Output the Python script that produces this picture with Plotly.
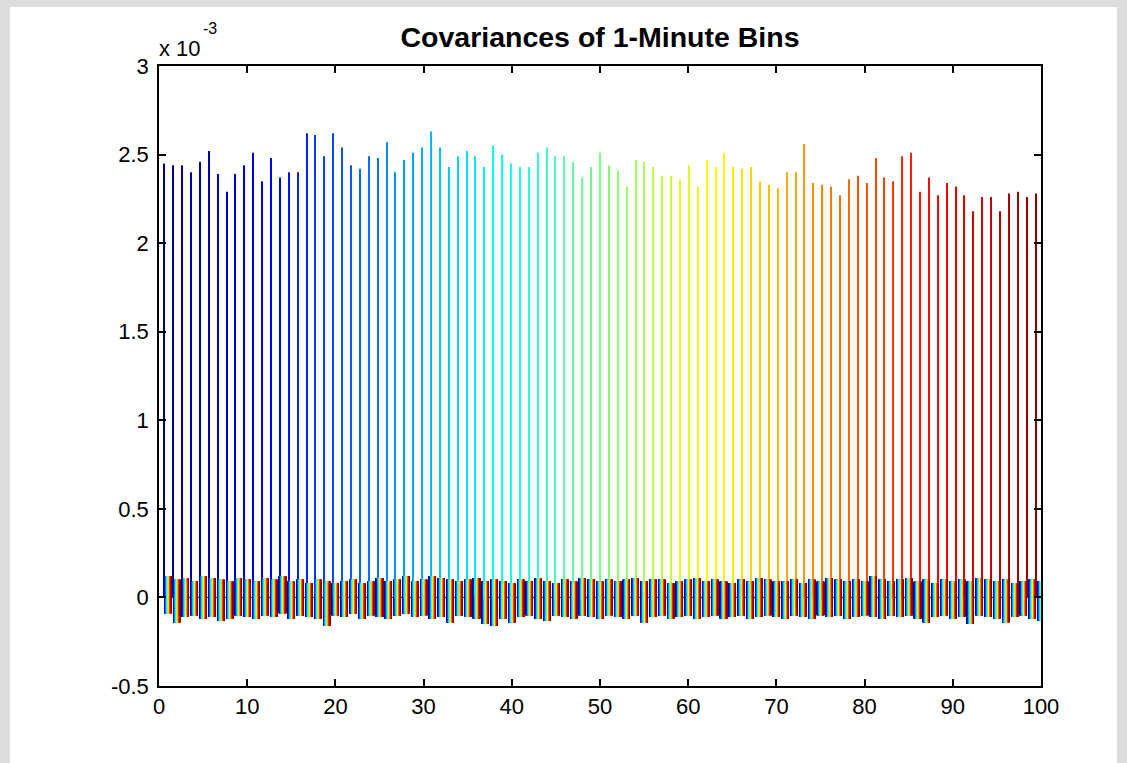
import plotly.graph_objects as go

# ---------------- data (values in units of 1e-3) ----------------
bins = list(range(1, 101))

# diagonal (variance) bars
variance_e3 = [
    2.45, 2.44, 2.44, 2.40, 2.46, 2.52, 2.39, 2.29, 2.39, 2.44,
    2.51, 2.35, 2.48, 2.37, 2.40, 2.40, 2.62, 2.61, 2.49, 2.62,
    2.54, 2.44, 2.42, 2.49, 2.48, 2.57, 2.40, 2.47, 2.51, 2.54,
    2.63, 2.54, 2.43, 2.49, 2.52, 2.49, 2.43, 2.55, 2.50, 2.45,
    2.43, 2.43, 2.51, 2.54, 2.49, 2.49, 2.46, 2.37, 2.43, 2.51,
    2.44, 2.41, 2.32, 2.47, 2.46, 2.43, 2.38, 2.38, 2.36, 2.44,
    2.32, 2.47, 2.43, 2.51, 2.43, 2.42, 2.43, 2.35, 2.33, 2.31,
    2.40, 2.40, 2.56, 2.34, 2.33, 2.32, 2.27, 2.36, 2.38, 2.34,
    2.48, 2.37, 2.35, 2.49, 2.51, 2.29, 2.37, 2.27, 2.34, 2.32,
    2.27, 2.18, 2.26, 2.26, 2.18, 2.28, 2.29, 2.26, 2.28, 2.29,
]

# off-diagonal covariances: estimated upper / lower extent per bin group
offdiag_high_e3 = [
    0.12, 0.10, 0.11, 0.09, 0.12, 0.11, 0.10, 0.09, 0.11, 0.10,
    0.09, 0.11, 0.10, 0.12, 0.09, 0.10, 0.08, 0.10, 0.09, 0.08,
    0.09, 0.10, 0.08, 0.09, 0.11, 0.09, 0.10, 0.12, 0.09, 0.10,
    0.12, 0.11, 0.10, 0.09, 0.10, 0.11, 0.09, 0.10, 0.09, 0.08,
    0.10, 0.09, 0.11, 0.09, 0.08, 0.10, 0.09, 0.11, 0.10, 0.09,
    0.10, 0.09, 0.10, 0.11, 0.09, 0.10, 0.10, 0.08, 0.09, 0.10,
    0.11, 0.09, 0.10, 0.09, 0.08, 0.10, 0.09, 0.11, 0.10, 0.09,
    0.09, 0.10, 0.08, 0.10, 0.09, 0.11, 0.10, 0.09, 0.10, 0.09,
    0.12, 0.10, 0.09, 0.10, 0.11, 0.09, 0.10, 0.08, 0.10, 0.09,
    0.10, 0.09, 0.11, 0.10, 0.09, 0.10, 0.08, 0.09, 0.10, 0.09,
]
offdiag_low_e3 = [
    -0.09, -0.14, -0.11, -0.10, -0.12, -0.11, -0.13, -0.12, -0.10, -0.11,
    -0.12, -0.10, -0.11, -0.09, -0.12, -0.10, -0.11, -0.12, -0.16, -0.10,
    -0.11, -0.09, -0.12, -0.10, -0.11, -0.12, -0.10, -0.09, -0.11, -0.10,
    -0.12, -0.11, -0.14, -0.10, -0.11, -0.12, -0.15, -0.16, -0.12, -0.14,
    -0.11, -0.10, -0.12, -0.13, -0.10, -0.11, -0.12, -0.10, -0.11, -0.12,
    -0.10, -0.11, -0.12, -0.10, -0.14, -0.11, -0.10, -0.12, -0.11, -0.10,
    -0.12, -0.11, -0.10, -0.12, -0.11, -0.10, -0.12, -0.11, -0.10, -0.11,
    -0.12, -0.10, -0.11, -0.12, -0.10, -0.11, -0.10, -0.12, -0.11, -0.10,
    -0.11, -0.12, -0.10, -0.11, -0.10, -0.12, -0.14, -0.11, -0.10, -0.12,
    -0.11, -0.15, -0.10, -0.11, -0.12, -0.14, -0.11, -0.10, -0.12, -0.13,
]

x_ticks = [0, 10, 20, 30, 40, 50, 60, 70, 80, 90, 100]
y_ticks = [-0.5, 0, 0.5, 1, 1.5, 2, 2.5, 3]
y_tick_labels = ["-0.5", "0", "0.5", "1", "1.5", "2", "2.5", "3"]


# ---------------- MATLAB jet colormap ----------------
def jet(m):
    n = -(-m // 4)
    u = [k / n for k in range(1, n + 1)] + [1.0] * (n - 1) + [k / n for k in range(n, 0, -1)]
    off = -(-n // 2) - (1 if m % 4 == 1 else 0)
    g = [off + k for k in range(1, len(u) + 1)]
    r = [v + n for v in g]
    b = [v - n for v in g]
    g = [v for v in g if v <= m]
    r = [v for v in r if v <= m]
    b = [v for v in b if v >= 1]
    J = [[0.0, 0.0, 0.0] for _ in range(m)]
    for k, idx in enumerate(r):
        J[idx - 1][0] = u[k]
    for k, idx in enumerate(g):
        J[idx - 1][1] = u[k]
    start = len(u) - len(b)
    for k, idx in enumerate(b):
        J[idx - 1][2] = u[start + k]
    return ["rgb(%d,%d,%d)" % tuple(round(255 * c) for c in row) for row in J]


n_series = len(bins)
colors = jet(n_series)

GROUP_WIDTH = 0.8
slot = GROUP_WIDTH / n_series
diag_w = 0.12  # drawn width (axis units) of the tall variance bars

fig = go.Figure()
for j in range(n_series):
    ys, bases, widths, offsets = [], [], [], []
    center = -GROUP_WIDTH / 2 + (j + 0.5) * slot
    for i in range(len(bins)):
        if i == j:
            ys.append(variance_e3[i])
            bases.append(0.0)
            w = diag_w
        else:
            ys.append(offdiag_high_e3[i] - offdiag_low_e3[i])
            bases.append(offdiag_low_e3[i])
            w = slot
        widths.append(w)
        offsets.append(center - w / 2)
    fig.add_trace(go.Bar(
        x=bins, y=ys, base=bases, offset=offsets, width=widths,
        marker=dict(color=colors[j], line=dict(width=0)),
        showlegend=False, hoverinfo="skip",
    ))

W, H = 1127, 763
L, R, T, B = 159, 86, 66, 77
pw, ph = W - L - R, H - T - B


def px_x(p):
    return (p - L) / pw


def px_y(p):
    return (H - B - p) / ph


font_family = "Liberation Sans, Arial, Helvetica, sans-serif"

axis_common = dict(
    showline=True, linecolor="black", linewidth=1.5, mirror="allticks",
    ticks="inside", ticklen=7, tickwidth=1.5, tickcolor="black",
    showgrid=False, zeroline=False,
    tickfont=dict(family=font_family, size=22, color="black"),
)

fig.update_layout(
    width=W, height=H,
    margin=dict(l=L, r=R, t=T, b=B, pad=0),
    paper_bgcolor="#dcdcdc",
    plot_bgcolor="white",
    barmode="overlay",
    title=dict(
        text="<b>Covariances of 1-Minute Bins</b>",
        font=dict(family=font_family, size=28.5, color="black"),
        x=0.5, xref="paper", xanchor="center",
        y=1 - 37 / H, yref="container", yanchor="middle",
    ),
    xaxis=dict(range=[0, 100], tickvals=x_ticks, ticklabelstandoff=0, **axis_common),
    yaxis=dict(range=[-0.5, 3], tickvals=y_ticks, ticktext=y_tick_labels,
               ticklabelstandoff=4, **axis_common),
    shapes=[
        dict(type="rect", xref="paper", yref="paper",
             x0=px_x(10), x1=px_x(1117), y0=px_y(763), y1=px_y(7),
             fillcolor="white", line=dict(width=0), layer="below"),
        dict(type="line", xref="x", yref="y", x0=0, x1=100, y0=0, y1=0,
             line=dict(color="black", width=1), layer="below"),
    ],
    annotations=[
        dict(text="x 10", xref="paper", yref="paper",
             x=px_x(157), y=px_y(48.5), xanchor="left", yanchor="middle",
             showarrow=False, font=dict(family=font_family, size=22, color="black")),
        dict(text="-3", xref="paper", yref="paper",
             x=px_x(201), y=px_y(28.5), xanchor="left", yanchor="middle",
             showarrow=False, font=dict(family=font_family, size=16, color="black")),
    ],
)

fig.write_html(
    "out.html",
    config={"displayModeBar": False},
    post_script="document.body.style.margin='0';document.body.style.overflow='hidden';",
)
